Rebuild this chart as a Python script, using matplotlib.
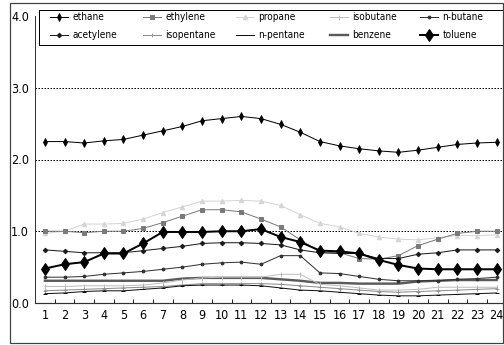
import matplotlib
matplotlib.use("Agg")
import matplotlib.pyplot as plt
from matplotlib.patches import Rectangle
from matplotlib.ticker import FixedLocator
from matplotlib import font_manager as fm

hours = list(range(1, 25))
hour_labels = [str(h) for h in hours]
y_ticks = [0.0, 1.0, 2.0, 3.0, 4.0]
y_tick_labels = ["0.0", "1.0", "2.0", "3.0", "4.0"]

ethane = [2.25, 2.25, 2.23, 2.26, 2.28, 2.34, 2.40, 2.46, 2.54, 2.57, 2.60, 2.57,
          2.49, 2.38, 2.25, 2.19, 2.15, 2.12, 2.10, 2.13, 2.17, 2.21, 2.23, 2.24]
ethylene = [1.00, 1.00, 0.98, 1.00, 1.00, 1.04, 1.12, 1.21, 1.30, 1.30, 1.27, 1.17,
            1.06, 0.88, 0.71, 0.70, 0.62, 0.61, 0.66, 0.80, 0.89, 0.97, 1.00, 1.00]
propane = [0.97, 1.00, 1.10, 1.10, 1.11, 1.17, 1.26, 1.34, 1.42, 1.42, 1.43, 1.42,
           1.36, 1.23, 1.11, 1.06, 0.97, 0.92, 0.89, 0.88, 0.91, 0.94, 0.94, 0.95]
isobutane = [0.23, 0.23, 0.24, 0.24, 0.24, 0.25, 0.28, 0.32, 0.35, 0.36, 0.36, 0.36,
             0.40, 0.40, 0.26, 0.24, 0.21, 0.18, 0.18, 0.19, 0.22, 0.22, 0.22, 0.22]
n_butane = [0.36, 0.36, 0.37, 0.40, 0.42, 0.44, 0.47, 0.50, 0.54, 0.56, 0.57, 0.54,
            0.66, 0.66, 0.42, 0.41, 0.37, 0.33, 0.31, 0.31, 0.31, 0.33, 0.34, 0.36]
acetylene = [0.74, 0.72, 0.70, 0.70, 0.70, 0.73, 0.76, 0.79, 0.83, 0.84, 0.84, 0.83,
             0.81, 0.74, 0.70, 0.69, 0.69, 0.62, 0.62, 0.68, 0.70, 0.74, 0.74, 0.74]
isopentane = [0.17, 0.18, 0.19, 0.20, 0.21, 0.22, 0.23, 0.25, 0.27, 0.27, 0.27, 0.27,
              0.26, 0.24, 0.22, 0.20, 0.18, 0.16, 0.15, 0.16, 0.17, 0.18, 0.19, 0.20]
n_pentane = [0.13, 0.14, 0.16, 0.17, 0.17, 0.19, 0.21, 0.24, 0.25, 0.25, 0.25, 0.24,
             0.21, 0.18, 0.17, 0.15, 0.13, 0.11, 0.10, 0.10, 0.11, 0.12, 0.13, 0.14]
benzene = [0.31, 0.31, 0.31, 0.31, 0.31, 0.31, 0.31, 0.34, 0.35, 0.35, 0.35, 0.35,
           0.33, 0.31, 0.28, 0.28, 0.27, 0.27, 0.27, 0.30, 0.31, 0.32, 0.32, 0.32]
toluene = [0.48, 0.54, 0.57, 0.69, 0.69, 0.83, 0.99, 0.99, 0.99, 1.00, 1.00, 1.03,
           0.92, 0.85, 0.73, 0.72, 0.69, 0.60, 0.53, 0.48, 0.47, 0.47, 0.47, 0.47]

# a condensed face if one is installed, otherwise Liberation Sans
narrow_path = None
for f in fm.fontManager.ttflist:
    low = f.fname.lower()
    if ("narrow" in low or "condensed" in low) and not any(
            k in low for k in ["bold", "italic", "oblique", "light", "thin", "black", "medium", "semi"]):
        narrow_path = f.fname
        break

if narrow_path:
    def fp(size):
        return fm.FontProperties(fname=narrow_path, size=size)
    tick_size, leg_size = 12.5, 10
else:
    def fp(size):
        return fm.FontProperties(family=["Liberation Sans", "DejaVu Sans"], size=size)
    tick_size, leg_size = 11, 9

W, H = 504, 345
fig = plt.figure(figsize=(W / 72, H / 72), dpi=72)
fig.patch.set_facecolor("white")

# outer frame
fig.add_artist(Rectangle((10 / W, 2 / H), 493 / W, 340 / H, transform=fig.transFigure,
                         fill=False, edgecolor="#404040", linewidth=1.2))

left = 35.1 / W
right = 506.5 / W
bottom = (H - 303) / H
top = (H - 16) / H
ax = fig.add_axes([left, bottom, right - left, top - bottom])
ax.set_xlim(0.5, 24.5)
ax.set_ylim(0, 4)

for y in [1.0, 2.0, 3.0]:
    ax.axhline(y, color="black", linestyle=(0, (1.5, 1.5)), linewidth=1.0, zorder=1)

styles = {
    "ethane": dict(color="black", lw=1.0, marker="d", ms=5, mew=0.8),
    "ethylene": dict(color="#7a7a7a", lw=1.0, marker="s", ms=4),
    "propane": dict(color="#d4d4d4", lw=1.0, marker="^", ms=4.5),
    "isobutane": dict(color="#bdbdbd", lw=1.0, marker="|", ms=5, mew=1.0),
    "n-butane": dict(color="#303030", lw=1.0, marker="o", ms=2.8),
    "acetylene": dict(color="#1a1a1a", lw=1.0, marker="D", ms=3.2),
    "isopentane": dict(color="#8c8c8c", lw=1.0, marker="+", ms=4, mew=0.8),
    "n-pentane": dict(color="#111111", lw=1.0, marker="_", ms=4, mew=1.0),
    "benzene": dict(color="#5a5a5a", lw=2.4),
    "toluene": dict(color="black", lw=2.0, marker="d", ms=8.5),
}
series = {
    "ethane": ethane, "ethylene": ethylene, "propane": propane,
    "isobutane": isobutane, "n-butane": n_butane, "acetylene": acetylene,
    "isopentane": isopentane, "n-pentane": n_pentane, "benzene": benzene,
    "toluene": toluene,
}
zorders = {"benzene": 2, "isobutane": 3, "propane": 3, "isopentane": 3,
           "n-pentane": 4, "ethylene": 4, "n-butane": 4, "acetylene": 5,
           "ethane": 5, "toluene": 6}
handles = {}
for name, vals in series.items():
    (h,) = ax.plot(hours, vals, label=name, zorder=zorders[name], **styles[name])
    handles[name] = h

for s in ["top", "right"]:
    ax.spines[s].set_visible(False)
ax.spines["left"].set_color("#333333")
ax.spines["bottom"].set_color("#333333")
ax.spines["left"].set_linewidth(1.0)
ax.spines["bottom"].set_linewidth(1.2)

# x axis: tick marks between categories, labels at categories
ax.xaxis.set_major_locator(FixedLocator([h + 0.5 for h in hours[:-1]]))
ax.xaxis.set_major_formatter(plt.NullFormatter())
ax.xaxis.set_minor_locator(FixedLocator(hours))
ax.set_xticklabels(hour_labels, minor=True)
ax.tick_params(axis="x", which="major", direction="in", length=4, width=1, color="#222222")
ax.tick_params(axis="x", which="minor", length=0, pad=6)
for lab in ax.get_xticklabels(minor=True):
    lab.set_fontproperties(fp(tick_size))

ax.set_yticks(y_ticks)
ax.set_yticklabels(y_tick_labels)
ax.tick_params(axis="y", length=0, pad=24)
for lab in ax.get_yticklabels():
    lab.set_horizontalalignment("left")
    lab.set_fontproperties(fp(tick_size))

# legend box (drawn separately, under the legend entries)
box = Rectangle((39 / W, 1 - 45 / H), 480 / W, 35 / H, transform=fig.transFigure,
                fill=True, facecolor="white", edgecolor="black", linewidth=1.0,
                zorder=9, clip_on=False)
ax.add_patch(box)

# one legend per column so the columns sit where the reference has them
columns = [["ethane", "acetylene"], ["ethylene", "isopentane"], ["propane", "n-pentane"],
           ["isobutane", "benzene"], ["n-butane", "toluene"]]
col_x = [50, 143, 236, 330, 420]
legs = []
for names, x0 in zip(columns, col_x):
    lg = ax.legend([handles[n] for n in names], names,
                   loc="upper left", bbox_to_anchor=(x0 / W, 1 - 12 / H),
                   bbox_transform=fig.transFigure, borderaxespad=0, borderpad=0.0,
                   frameon=False, prop=fp(leg_size), handlelength=1.8,
                   handletextpad=0.45, labelspacing=0.8)
    lg.set_zorder(10)
    legs.append(lg)
for lg in legs[:-1]:
    ax.add_artist(lg)

fig.savefig("out.png", dpi=72)
